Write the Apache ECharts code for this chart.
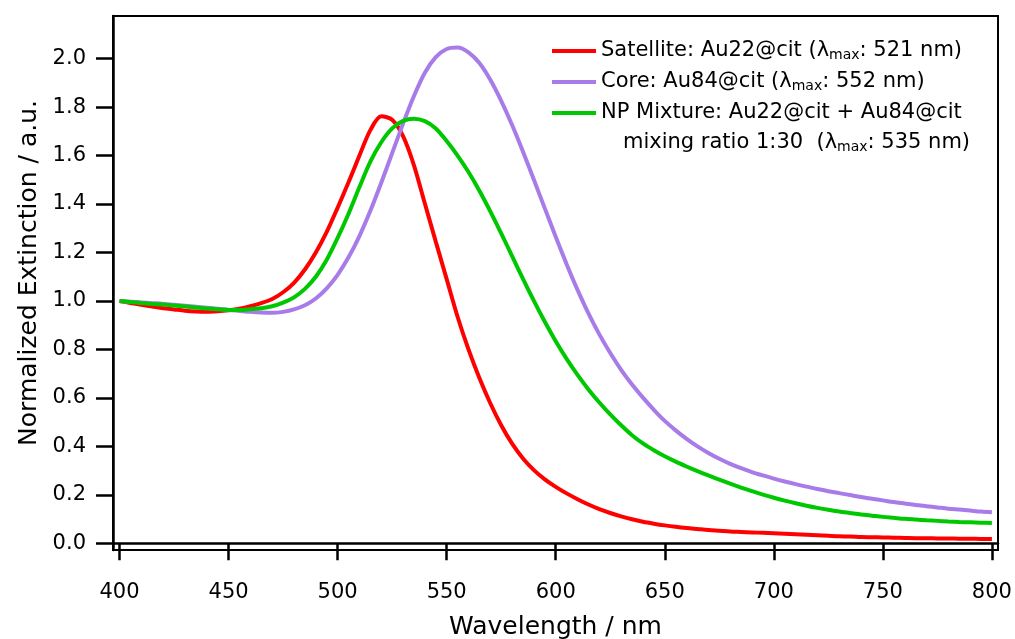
<!DOCTYPE html>
<html>
<head>
<meta charset="utf-8">
<script src="https://cdn.jsdelivr.net/npm/echarts@6/dist/echarts.min.js"></script>
<style>html,body{margin:0;padding:0;background:#fff}#c{width:1015px;height:639px}</style>
</head>
<body>
<div id="c"></div>
<script>
const wavelengths = [400,405,410,415,420,425,430,435,440,445,450,455,460,465,470,475,480,485,490,495,500,505,510,515,520,525,530,535,540,545,550,555,560,565,570,575,580,585,590,595,600,605,610,615,620,625,630,635,640,645,650,655,660,665,670,675,680,685,690,695,700,705,710,715,720,725,730,735,740,745,750,755,760,765,770,775,780,785,790,795,800];
const satellite = [1.000,0.992,0.984,0.977,0.970,0.965,0.960,0.957,0.956,0.958,0.962,0.968,0.978,0.991,1.008,1.036,1.075,1.130,1.200,1.285,1.385,1.490,1.600,1.705,1.762,1.748,1.680,1.560,1.402,1.245,1.090,0.935,0.800,0.682,0.578,0.487,0.411,0.350,0.302,0.264,0.233,0.206,0.182,0.160,0.141,0.125,0.111,0.099,0.089,0.081,0.074,0.068,0.063,0.059,0.055,0.052,0.049,0.047,0.045,0.043,0.041,0.039,0.037,0.035,0.033,0.031,0.029,0.028,0.026,0.025,0.024,0.023,0.022,0.021,0.021,0.020,0.020,0.019,0.019,0.018,0.018];
const core = [1.000,0.997,0.994,0.991,0.988,0.984,0.980,0.976,0.972,0.968,0.963,0.959,0.955,0.952,0.951,0.955,0.965,0.982,1.010,1.052,1.108,1.180,1.268,1.372,1.488,1.610,1.732,1.846,1.942,2.006,2.040,2.046,2.026,1.982,1.913,1.826,1.726,1.616,1.500,1.382,1.265,1.152,1.046,0.949,0.862,0.785,0.716,0.655,0.601,0.551,0.505,0.466,0.431,0.400,0.373,0.349,0.328,0.310,0.294,0.280,0.267,0.255,0.244,0.234,0.224,0.215,0.207,0.199,0.191,0.184,0.177,0.170,0.164,0.158,0.153,0.148,0.143,0.139,0.135,0.131,0.128];
const mixture = [1.000,0.996,0.992,0.988,0.985,0.981,0.977,0.973,0.969,0.966,0.963,0.963,0.966,0.970,0.978,0.993,1.015,1.050,1.100,1.170,1.260,1.360,1.470,1.575,1.655,1.712,1.743,1.752,1.742,1.712,1.660,1.600,1.532,1.455,1.370,1.279,1.185,1.091,1.000,0.914,0.834,0.761,0.695,0.635,0.581,0.532,0.487,0.446,0.412,0.384,0.359,0.337,0.317,0.298,0.280,0.263,0.246,0.230,0.215,0.201,0.188,0.176,0.165,0.155,0.146,0.138,0.131,0.125,0.119,0.114,0.109,0.105,0.101,0.098,0.095,0.0925,0.090,0.088,0.0865,0.085,0.084];
const xTicks = [400,450,500,550,600,650,700,750,800];
const yTicks = [0,0.2,0.4,0.6,0.8,1.0,1.2,1.4,1.6,1.8,2.0];
const seriesNames = ['Satellite','Core','Mixture'];
const legendLabels = {
  'Satellite': 'Satellite: Au22@cit (λ{sub|max}: 521 nm)',
  'Core': 'Core: Au84@cit (λ{sub|max}: 552 nm)',
  'Mixture': 'NP Mixture: Au22@cit + Au84@cit'
};
const mixtureLine2 = 'mixing ratio 1:30  (λ{sub|max}: 535 nm)';
const colors = ['#ff0000','#a87ce8','#00c800'];

const FONT = 'DejaVu Sans';
const chart = echarts.init(document.getElementById('c'), null, {renderer:'canvas'});
const richStyles = {
  sub: {fontFamily: FONT, fontSize: 14, color:'#000', padding:[9,0,0,0], lineHeight: 24}
};
const allData = [satellite, core, mixture];
chart.setOption({
  animation: false,
  backgroundColor: '#fff',
  grid: {left: 113, right: 17, top: 16, bottom: 89, show: true, borderColor: '#000', borderWidth: 2,
    outerBoundsMode: 'none', containLabel: false},
  xAxis: {
    type: 'value', min: 397, max: 802.8,
    name: 'Wavelength / nm', nameLocation: 'middle', nameGap: 65,
    nameTextStyle: {fontFamily: FONT, fontSize: 25, color: '#000'},
    axisLine: {show: true, lineStyle: {color: '#000', width: 2.5}},
    axisTick: {show: true, length: 17, lineStyle: {color:'#000', width: 2.5}, customValues: xTicks},
    axisLabel: {fontFamily: FONT, fontSize: 21, color: '#000', margin: 32, customValues: xTicks},
    splitLine: {show: false}
  },
  yAxis: {
    type: 'value', min: -0.0277, max: 2.176,
    name: 'Normalized Extinction / a.u.', nameLocation: 'middle', nameGap: 62,
    nameTextStyle: {fontFamily: FONT, fontSize: 25, color: '#000', padding: [0,0,0,20]},
    axisLine: {show: true, lineStyle: {color: '#000', width: 2.5}},
    axisTick: {show: true, length: 17, lineStyle: {color:'#000', width: 2.5}, customValues: yTicks},
    axisLabel: {fontFamily: FONT, fontSize: 21, color: '#000', margin: 27, customValues: yTicks,
      formatter: v => v.toFixed(1)},
    splitLine: {show: false}
  },
  legend: {
    show: true, orient: 'vertical', left: 552, top: 39, padding: 0,
    icon: 'rect', itemWidth: 44, itemHeight: 4, itemGap: 7, itemTextGap: 19,
    data: seriesNames,
    formatter: n => legendLabels[n],
    textStyle: {fontFamily: FONT, fontSize: 21, color: '#000', lineHeight: 24, rich: richStyles}
  },
  graphic: [{
    type: 'text', left: 623, top: 131,
    style: {text: mixtureLine2, fontFamily: FONT, fontSize: 21, fill: '#000', lineHeight: 24, rich: richStyles}
  }],
  series: seriesNames.map((n, k) => ({
    name: n, type: 'line', smooth: 0.3, showSymbol: false,
    data: wavelengths.map((w, i) => [w, allData[k][i]]),
    lineStyle: {color: colors[k], width: 4},
    itemStyle: {color: colors[k]}
  }))
});
</script>
</body>
</html>
